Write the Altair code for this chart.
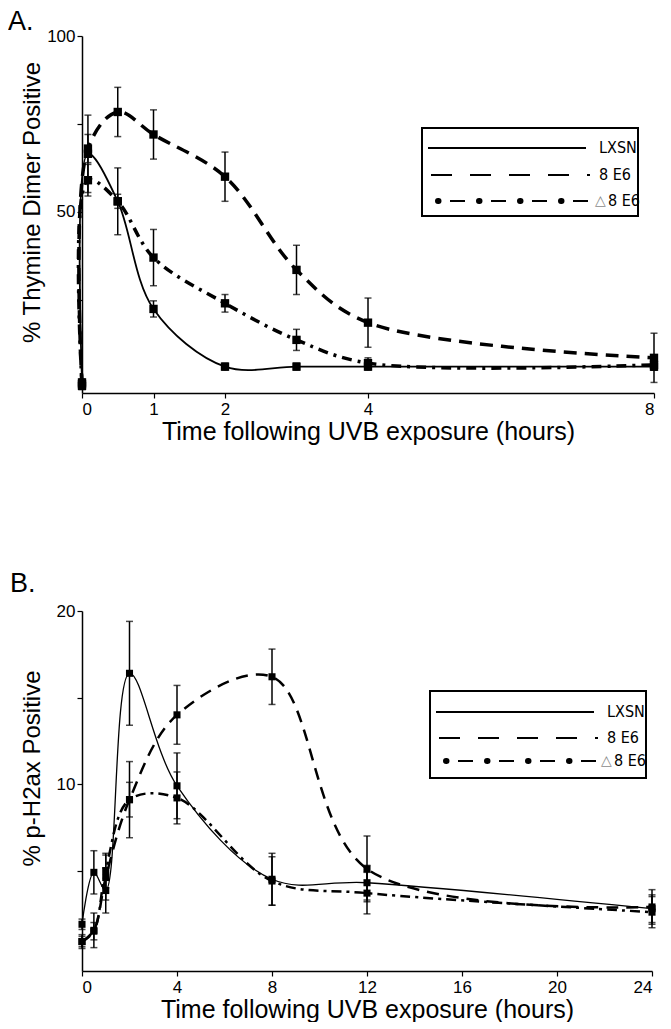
import altair as alt
import pandas as pd

SERIES = ["LXSN", "8 E6", "D8 E6"]

# ---------------- Panel A: thymine dimers ----------------
time_a = [0, 0.083, 0.5, 1, 2, 3, 4, 8]
lxsn_a = [1.5, 66.5, 53.0, 22.4, 6.0, 6.0, 6.0, 6.0]
lxsn_a_err = [1.0, 11.0, 2.0, 2.3, 1.0, 1.0, 1.0, 1.0]
e6_a = [0.5, 68.0, 78.4, 72.0, 60.0, 33.5, 18.5, 8.5]
e6_a_err = [1.0, 4.0, 7.0, 7.0, 7.0, 7.0, 7.0, 7.0]
d_a = [1.0, 59.0, 53.0, 37.0, 24.0, 13.6, 7.0, 6.5]
d_a_err = [1.0, 4.5, 9.5, 8.0, 2.5, 3.0, 1.5, 1.5]

# ---------------- Panel B: p-H2ax ----------------
time_b = [0, 0.5, 1, 2, 4, 8, 12, 24]
lxsn_b = [1.9, 4.9, 3.85, 16.4, 9.9, 4.5, 4.3, 2.8]
lxsn_b_err = [0.3, 1.25, 1.3, 3.0, 1.9, 1.5, 1.0, 0.8]
e6_b = [0.9, 1.55, 4.6, 9.1, 14.0, 16.2, 5.1, 2.9]
e6_b_err = [0.4, 1.0, 1.3, 2.2, 1.7, 1.6, 1.9, 1.0]
d_b = [0.9, 1.5, 5.0, 9.1, 9.2, 4.4, 3.7, 2.6]
d_b_err = [0.3, 0.5, 1.0, 1.0, 1.5, 1.4, 1.2, 0.9]

XTITLE = "Time following UVB exposure (hours)"
NARROW = "Liberation Sans Narrow, DejaVu Sans Condensed, Arial Narrow, sans-serif"


def frame(times, vals, errs):
    rows = []
    for s, v, e in zip(SERIES, vals, errs):
        for t, vi, ei in zip(times, v, e):
            rows.append({"t": t, "v": vi, "lo": vi - ei, "hi": vi + ei, "s": s})
    return pd.DataFrame(rows)


def panel(df, xdom, xvals, ydom, yticks, ylab, ytitle, w, h, styles, sq, letter,
          letter_xy, title_y, leg):
    base = alt.Chart(df)
    x = alt.X("t:Q", scale=alt.Scale(domain=xdom, nice=False, zero=False),
              axis=alt.Axis(values=xvals, title=XTITLE, format="d"))
    y = alt.Y("v:Q", scale=alt.Scale(domain=ydom, nice=False, zero=False),
              axis=alt.Axis(values=yticks, title=ytitle,
                            labelExpr=f"indexof({ylab}, datum.value) >= 0 ? datum.label : ''",
                            titleX=-62, titleY=title_y, titleBaseline="top"))
    layers = []
    for s, st in zip(SERIES, styles):
        kw = dict(interpolate="catmull-rom", color="black", strokeWidth=st[0])
        if st[1]:
            kw["strokeDash"] = st[1]
        layers.append(base.transform_filter(alt.datum.s == s).mark_line(**kw).encode(x=x, y=y))
    layers.append(base.mark_rule(color="black", strokeWidth=1.5).encode(
        x=x, y=alt.Y("lo:Q"), y2="hi:Q"))
    layers.append(base.mark_tick(color="black", orient="horizontal", size=7, thickness=1.5).encode(
        x=x, y=alt.Y("lo:Q")))
    layers.append(base.mark_tick(color="black", orient="horizontal", size=7, thickness=1.5).encode(
        x=x, y=alt.Y("hi:Q")))
    layers.append(base.mark_point(shape="square", filled=True, size=sq, color="black",
                                  opacity=1).encode(x=x, y=y))

    one = alt.Chart(pd.DataFrame({"k": [0]}))
    bx0, bx1, by0, by1, lx0, lx1, r1, r2, r3, tx, trix, tx3 = leg
    layers.append(one.mark_rect(fill="white", stroke="black", strokeWidth=2).encode(
        x=alt.value(bx0), x2=alt.value(bx1), y=alt.value(by0), y2=alt.value(by1)))
    layers.append(one.mark_rule(color="black", strokeWidth=2).encode(
        x=alt.value(lx0), x2=alt.value(lx1), y=alt.value(r1)))
    layers.append(one.mark_rule(color="black", strokeWidth=2, strokeDash=[21, 18]).encode(
        x=alt.value(lx0 + 3), x2=alt.value(lx1 + 4), y=alt.value(r2)))
    layers.append(one.mark_rule(color="black", strokeWidth=6, strokeCap="round",
                                strokeDash=[0.5, 40.5]).encode(
        x=alt.value(lx0 + 10), x2=alt.value(lx1), y=alt.value(r3)))
    layers.append(one.mark_rule(color="black", strokeWidth=2, strokeDash=[15, 26],
                                strokeDashOffset=29).encode(
        x=alt.value(lx0 + 10), x2=alt.value(lx1 + 2), y=alt.value(r3)))
    for ty, lab, xx in [(r1, "LXSN", tx), (r2, "8 E6", tx), (r3, "8 E6", tx3)]:
        layers.append(one.mark_text(align="left", baseline="middle", font=NARROW, fontSize=16,
                                    color="black").encode(
            x=alt.value(xx), y=alt.value(ty), text=alt.value(lab)))
    layers.append(one.mark_text(align="left", baseline="middle", font="DejaVu Sans", fontSize=14,
                                color="#8a8a8a").encode(
        x=alt.value(trix), y=alt.value(r3), text=alt.value("△")))
    layers.append(one.mark_text(align="left", baseline="top", fontSize=27,
                                font="Liberation Sans", color="black").encode(
        x=alt.value(letter_xy[0]), y=alt.value(letter_xy[1]), text=alt.value(letter)))
    return alt.layer(*layers).properties(width=w, height=h)


df_a = frame(time_a, [lxsn_a, e6_a, d_a], [lxsn_a_err, e6_a_err, d_a_err])
df_b = frame(time_b, [lxsn_b, e6_b, d_b], [lxsn_b_err, e6_b_err, d_b_err])

chart_a = panel(df_a, [0, 8], [0, 1, 2, 4, 8], [-1.5, 100], [25, 50, 75, 100], "[50, 100]",
                "% Thymine Dimer Positive", 572, 357,
                [(1.8, None), (3.5, [13, 8]), (3.5, [10, 6, 3, 6])], 70, "A.",
                (-74, -27), 166,
                (340, 556, 92, 180, 346, 504, 112, 139, 165, 517, 513, 526))
chart_b = panel(df_b, [0, 24], [0, 4, 8, 12, 16, 20, 24], [-0.8, 20], [5, 10, 15, 20], "[10, 20]",
                "% p-H2ax Positive", 570, 360,
                [(1.3, None), (2.5, [12, 8]), (2.5, [10, 5, 3, 5])], 50, "B.",
                (-72, -40), 157,
                (348, 564, 80, 167, 354, 512, 101, 127, 150, 525, 519, 532))

chart = alt.vconcat(chart_a, chart_b, spacing=126).properties(padding=0).configure(
    font="Liberation Sans"
).configure_view(stroke=None).configure_axis(
    grid=False, domainColor="black", domainWidth=1.5, tickColor="black", tickWidth=1.2,
    tickSize=5, labelColor="black", titleColor="black", labelFontSize=17, titleFontSize=24,
    titleFontWeight="normal", labelFont="Liberation Sans", titleFont="Liberation Sans",
    labelPadding=2
).configure_axisX(titleFontSize=25, titlePadding=2, labelPadding=3)

chart.save("out.html", embed_options={"renderer": "svg", "actions": False})
